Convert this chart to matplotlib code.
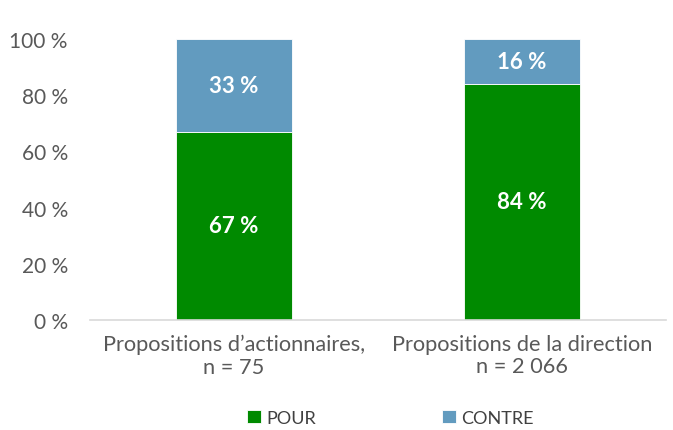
import matplotlib.pyplot as plt
import numpy as np

categories = ['Propositions d\u2019actionnaires,\nn = 75', 'Propositions de la direction\nn = 2 066']
pour = [67, 84]
contre = [33, 16]
yticks = [0, 20, 40, 60, 80, 100]

green = '#008A00'
blue = '#629BBF'
grey = '#595959'

plt.rcParams['font.family'] = ['Lato', 'DejaVu Sans']

fig = plt.figure(figsize=(6.73, 4.31), dpi=100)
ax = fig.add_axes([0.1337, 0.2552, 0.856, 0.652])

x = np.arange(len(categories))
b1 = ax.bar(x, pour, width=0.4, color=green, edgecolor='white', linewidth=0.6, label='POUR')
b2 = ax.bar(x, contre, width=0.4, bottom=pour, color=blue, edgecolor='white', linewidth=0.6, label='CONTRE')

for i in range(len(x)):
    ax.text(x[i], pour[i] / 2, f'{pour[i]} %', ha='center', va='center',
            color='white', fontsize=16, fontweight='bold')
    ax.text(x[i], pour[i] + contre[i] / 2, f'{contre[i]} %', ha='center', va='center',
            color='white', fontsize=16, fontweight='bold')

ax.set_xlim(-0.5, 1.5)
ax.set_ylim(0, 100)
ax.set_yticks(yticks)
ax.set_yticklabels([f'{t} %' for t in yticks], fontsize=15, color=grey)
ax.set_xticks(x)
ax.set_xticklabels(categories, fontsize=15.7, color=grey, linespacing=1.15)
ax.tick_params(length=0)
ax.tick_params(axis='y', pad=16)
ax.tick_params(axis='x', pad=10)
for s in ['top', 'right', 'left']:
    ax.spines[s].set_visible(False)
ax.spines['bottom'].set_color('#d9d9d9')
ax.spines['bottom'].set_linewidth(1.2)

fig.legend(handles=[b1, b2], loc='center', bbox_to_anchor=(0.58, 0.028), ncol=2,
           frameon=False, fontsize=13, handlelength=0.75, handleheight=0.75,
           handletextpad=0.3, columnspacing=7, labelcolor='#404040')

fig.savefig('out.png', dpi=100)
